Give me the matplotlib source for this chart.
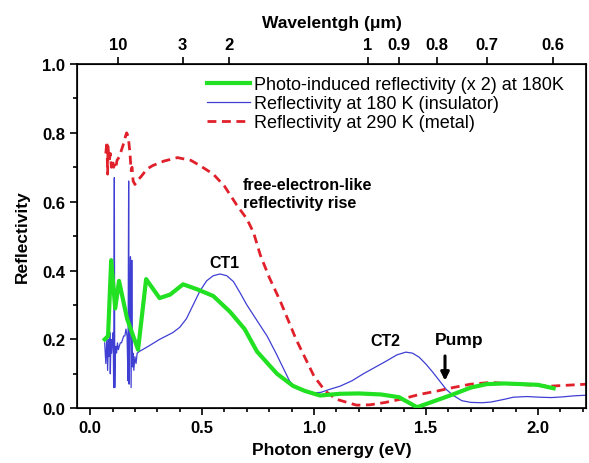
import numpy as np
import matplotlib
matplotlib.use("Agg")
import matplotlib.pyplot as plt
from matplotlib.ticker import MultipleLocator

plt.rcParams['font.family'] = ['Liberation Sans', 'DejaVu Sans']

# Photo-induced reflectivity (x2) at 180 K
green_x = [0.065, 0.08, 0.094, 0.112, 0.129, 0.165, 0.214, 0.25, 0.31, 0.357, 0.415, 0.48,
           0.55, 0.625, 0.69, 0.745, 0.80, 0.835, 0.906, 0.96, 1.027, 1.116, 1.2, 1.3, 1.38,
           1.46, 1.56, 1.62, 1.7, 1.77, 1.85, 1.93, 2.0, 2.07]
green_y = [0.20, 0.21, 0.43, 0.29, 0.37, 0.26, 0.17, 0.375, 0.32, 0.33, 0.36, 0.345,
           0.326, 0.28, 0.23, 0.165, 0.125, 0.10, 0.065, 0.05, 0.037, 0.042, 0.043, 0.04, 0.032,
           0.003, 0.026, 0.04, 0.06, 0.07, 0.072, 0.07, 0.068, 0.058]

# Reflectivity at 180 K (insulator)
blue_x = [0.065, 0.07, 0.075, 0.078, 0.082, 0.085, 0.088, 0.09, 0.093, 0.096, 0.1, 0.103,
          0.105, 0.108, 0.110, 0.112, 0.115, 0.118, 0.122, 0.126, 0.13, 0.135, 0.14, 0.145,
          0.15, 0.155, 0.16, 0.165, 0.169, 0.172, 0.174, 0.177, 0.180, 0.183, 0.186, 0.189,
          0.192, 0.195, 0.2, 0.205, 0.21, 0.22, 0.26, 0.31, 0.37, 0.40, 0.43, 0.46, 0.49,
          0.52, 0.55, 0.58, 0.61, 0.64, 0.67, 0.70, 0.75, 0.79, 0.83, 0.86, 0.89, 0.915,
          0.95, 1.0, 1.03, 1.07, 1.116, 1.17, 1.22, 1.27, 1.32, 1.37, 1.41, 1.44, 1.47, 1.5,
          1.53, 1.56, 1.59, 1.62, 1.66, 1.70, 1.75, 1.79, 1.85, 1.89, 1.95, 2.01, 2.06, 2.11,
          2.16, 2.22]
blue_y = [0.19, 0.13, 0.21, 0.11, 0.20, 0.15, 0.22, 0.10, 0.20, 0.16, 0.20, 0.22,
          0.06, 0.67, 0.06, 0.17, 0.18, 0.16, 0.19, 0.17, 0.18, 0.19, 0.19, 0.20,
          0.21, 0.21, 0.23, 0.21, 0.08, 0.66, 0.07, 0.30, 0.44, 0.06, 0.43, 0.12,
          0.16, 0.11, 0.15, 0.13, 0.16, 0.165, 0.18, 0.20, 0.22, 0.235, 0.26, 0.30, 0.34,
          0.37, 0.385, 0.39, 0.385, 0.368, 0.335, 0.30, 0.25, 0.21, 0.16, 0.12, 0.08, 0.06,
          0.05, 0.045, 0.046, 0.055, 0.064, 0.08, 0.10, 0.118, 0.136, 0.155, 0.163, 0.16, 0.148, 0.128,
          0.105, 0.08, 0.055, 0.038, 0.022, 0.017, 0.016, 0.018, 0.026, 0.032, 0.034, 0.032, 0.031, 0.033,
          0.036, 0.038]

# Reflectivity at 290 K (metal)
red_x = [0.07, 0.075, 0.078, 0.08, 0.083, 0.086, 0.09, 0.095, 0.1, 0.105, 0.11, 0.115,
         0.12, 0.13, 0.14, 0.15, 0.158, 0.163, 0.17, 0.178, 0.183, 0.187, 0.192, 0.2, 0.21,
         0.23, 0.254, 0.28, 0.33, 0.39, 0.45, 0.49, 0.55, 0.6, 0.655, 0.7, 0.73, 0.76, 0.8,
         0.85, 0.92, 1.0, 1.05, 1.1, 1.19, 1.25, 1.32, 1.4, 1.47, 1.55, 1.62, 1.7, 1.79,
         1.9, 2.05, 2.22]
red_y = [0.74, 0.775, 0.68, 0.76, 0.73, 0.72, 0.74, 0.70, 0.72, 0.70, 0.71, 0.70,
         0.72, 0.73, 0.75, 0.77, 0.79, 0.80, 0.79, 0.74, 0.69, 0.70, 0.66, 0.65, 0.66,
         0.675, 0.695, 0.705, 0.718, 0.728, 0.72, 0.705, 0.68, 0.645, 0.59, 0.55, 0.51, 0.445, 0.38,
         0.31, 0.20, 0.093, 0.05, 0.026, 0.009, 0.01, 0.017, 0.028, 0.04, 0.05, 0.06, 0.07, 0.075,
         0.07, 0.064, 0.07]

wl_ticks = [10, 3, 2, 1, 0.9, 0.8, 0.7, 0.6]
wl_labels = ['10', '3', '2', '1', '0.9', '0.8', '0.7', '0.6']

labels = ['Photo-induced reflectivity (x 2) at 180K',
          'Reflectivity at 180 K (insulator)',
          'Reflectivity at 290 K (metal)']

fig = plt.figure(figsize=(5.89, 4.64), dpi=100)
ax = fig.add_axes([0.131, 0.118, 0.864, 0.742])

ax.plot(green_x, green_y, color='#22e022', lw=3.0, label=labels[0], zorder=3)
ax.plot(blue_x, blue_y, color='#3f3fd4', lw=0.9, label=labels[1], zorder=2)
ax.plot(red_x, red_y, color='#e0202a', lw=2.0, ls=(0, (3.2, 2)), label=labels[2], zorder=2)

ax.set_xlim(-0.058, 2.215)
ax.set_ylim(0, 1.0)
ax.xaxis.set_major_locator(MultipleLocator(0.5))
ax.xaxis.set_minor_locator(MultipleLocator(0.1))
ax.yaxis.set_major_locator(MultipleLocator(0.2))
ax.yaxis.set_minor_locator(MultipleLocator(0.1))
ax.tick_params(which='both', direction='out', width=1.2, labelsize=12, top=False, right=False)
ax.tick_params(which='major', length=5)
ax.tick_params(which='minor', length=3)
ax.set_xticks(ax.get_xticks())
ax.set_xticklabels([f'{v:.1f}' for v in ax.get_xticks()], fontweight='bold')
ax.set_yticks(ax.get_yticks())
ax.set_yticklabels([f'{v:.1f}' for v in ax.get_yticks()], fontweight='bold')
ax.set_xlim(-0.058, 2.215)
ax.set_ylim(0, 1.0)
for s in ax.spines.values():
    s.set_linewidth(1.2)

ax.set_xlabel('Photon energy (eV)', fontsize=12.5, fontweight='bold', labelpad=5)
ax.set_ylabel('Reflectivity', fontsize=12.5, fontweight='bold', labelpad=9)

ax2 = ax.twiny()
ax2.set_xlim(ax.get_xlim())
ax2.set_xticks([1.2398 / w for w in wl_ticks])
ax2.set_xticklabels(wl_labels, fontweight='bold', fontsize=12)
ax2.tick_params(direction='out', length=5, width=1.2)
ax2.set_xlabel('Wavelentgh (\u03bcm)', fontsize=12.5, fontweight='bold', labelpad=7)

ax.legend(loc='upper left', bbox_to_anchor=(0.255, 0.965), frameon=False, fontsize=13,
          handlelength=2.4, handletextpad=0.2, labelspacing=0.12, borderpad=0, borderaxespad=0)

ax.text(0.60, 0.424, 'CT1', fontsize=11.5, fontweight='bold', ha='center', va='center')
ax.text(1.32, 0.198, 'CT2', fontsize=11.5, fontweight='bold', ha='center', va='center')
ax.text(1.65, 0.20, 'Pump', fontsize=12.5, fontweight='bold', ha='center', va='center')
ax.text(0.683, 0.625, 'free-electron-like\nreflectivity rise', fontsize=11.5, fontweight='bold',
        ha='left', va='center', linespacing=1.25)
ax.annotate('', xy=(1.585, 0.072), xytext=(1.585, 0.16),
            arrowprops=dict(arrowstyle='-|>', color='black', lw=2.2, mutation_scale=12))

fig.savefig('out.png', dpi=100)
